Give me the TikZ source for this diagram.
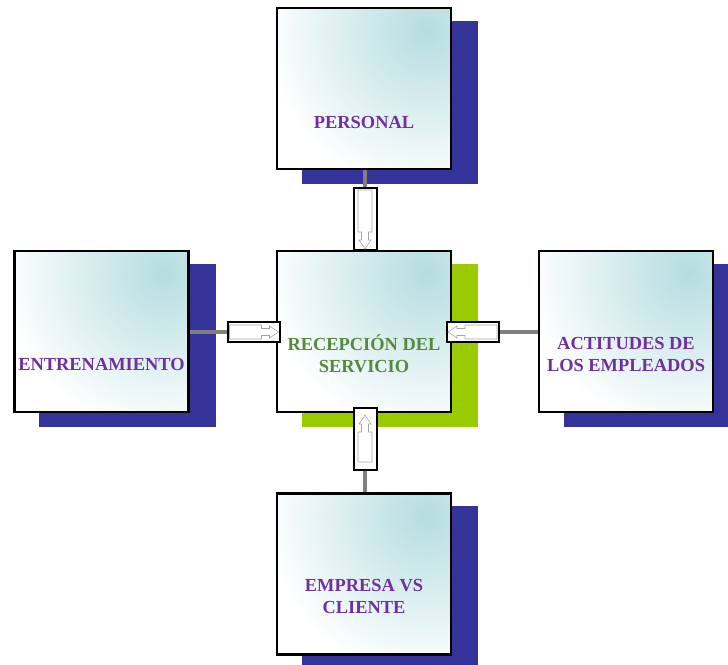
\documentclass[tikz,border=0pt]{standalone}
\usepackage{fontspec}
\setmainfont{Liberation Serif}
\usetikzlibrary{backgrounds}

\definecolor{shadenavy}{HTML}{333399}
\definecolor{shadegreen}{HTML}{99CC00}
\definecolor{linkgray}{HTML}{808080}
\definecolor{tealtint}{HTML}{B5DDE0}
\definecolor{labelpurple}{HTML}{7030A0}
\definecolor{labelgreen}{HTML}{568A3A}

\tikzset{
  card/.style={draw=black, line width=2.2pt, minimum width=174pt, minimum height=161pt,
    inner sep=0pt, fill=white,
    path picture={
      \shade[inner color=tealtint, outer color=white, yscale=0.85]
        ([shift={(-25,22)}]path picture bounding box.north east) circle (160);
    }},
  label/.style={font=\bfseries\fontsize{18.4}{22}\selectfont, align=center, text=labelpurple, inner sep=0pt},
  centrelabel/.style={label, text=labelgreen},
  vbox/.style={draw=black, line width=2pt, fill=white, minimum width=23pt, minimum height=62pt, inner sep=0pt},
  hbox/.style={draw=black, line width=2pt, fill=white, minimum width=52pt, minimum height=20pt, inner sep=0pt},
  link/.style={draw=linkgray, line width=4pt},
  innerarrow/.style={draw=linkgray!70, line width=0.6pt, fill=white},
}

% block arrow drawn inside a connector box; #1 = half length, pointing "down" in local axes
\newcommand\blockarrowpath[1]{%
  (-7,-#1+2) -- (7,-#1+2) -- (7,#1-18) -- (3.5,#1-18) -- (3.5,#1-10) -- (6,#1-10)
  -- (0,#1-1) -- (-6,#1-10) -- (-3.5,#1-10) -- (-3.5,#1-18) -- (-7,#1-18) -- cycle}

\begin{document}
\begin{tikzpicture}[x=1pt, y=-1pt]
  \useasboundingbox (0,0) rectangle (728,664);
  \clip (0,0) rectangle (728,664);

  % cards
  \node[card] (per) at (364,88.5) {};
  \node[card] (rec) at (364,331.5) {};
  \node[card] (ent) at (101.5,331.5) {};
  \node[card] (act) at (626,331.5) {};
  \node[card] (emp) at (364,574) {};

  % offset shadows behind the cards
  \begin{scope}[on background layer]
    \foreach \n in {per,ent,act,emp}
      \fill[shadenavy] ([shift={(26,14)}]\n.south west) rectangle ([shift={(26,14)}]\n.north east);
    \fill[shadegreen] ([shift={(26,14)}]rec.south west) rectangle ([shift={(26,14)}]rec.north east);
  \end{scope}

  % labels
  \node[label] (per-l) at (364,122) {PERSONAL};
  \node[centrelabel] (rec-l) at (364,354) {RECEPCIÓN DEL\\SERVICIO};
  \node[label] (ent-l) at (101.5,364) {ENTRENAMIENTO};
  \node[label] (act-l) at (626,354) {ACTITUDES DE\\LOS EMPLEADOS};
  \node[label] (emp-l) at (364,596.5) {EMPRESA VS\\CLIENTE};

  % connector boxes
  \node[vbox] (ta) at (365,219) {};
  \node[vbox] (ba) at (365,439) {};
  \node[hbox] (la) at (253.5,332) {};
  \node[hbox] (ra) at (473,332) {};

  % grey links from each outer card to its connector box
  \begin{scope}[on background layer]
    \draw[link] (per.south -| ta.north) -- (ta.north);
    \draw[link] (emp.north -| ba.south) -- (ba.south);
    \draw[link] (ent.east |- la.west) -- (la.west);
    \draw[link] (act.west |- ra.east) -- (ra.east);
  \end{scope}

  % arrows inside the connector boxes
  \begin{scope}[shift={(ta.center)}]
    \path[innerarrow] \blockarrowpath{31};
  \end{scope}
  \begin{scope}[shift={(ba.center)}, rotate=180]
    \path[innerarrow] \blockarrowpath{25};
  \end{scope}
  \begin{scope}[shift={(la.center)}, rotate=90]
    \path[innerarrow] \blockarrowpath{26};
  \end{scope}
  \begin{scope}[shift={(ra.center)}, rotate=-90]
    \path[innerarrow] \blockarrowpath{26};
  \end{scope}
\end{tikzpicture}
\end{document}
